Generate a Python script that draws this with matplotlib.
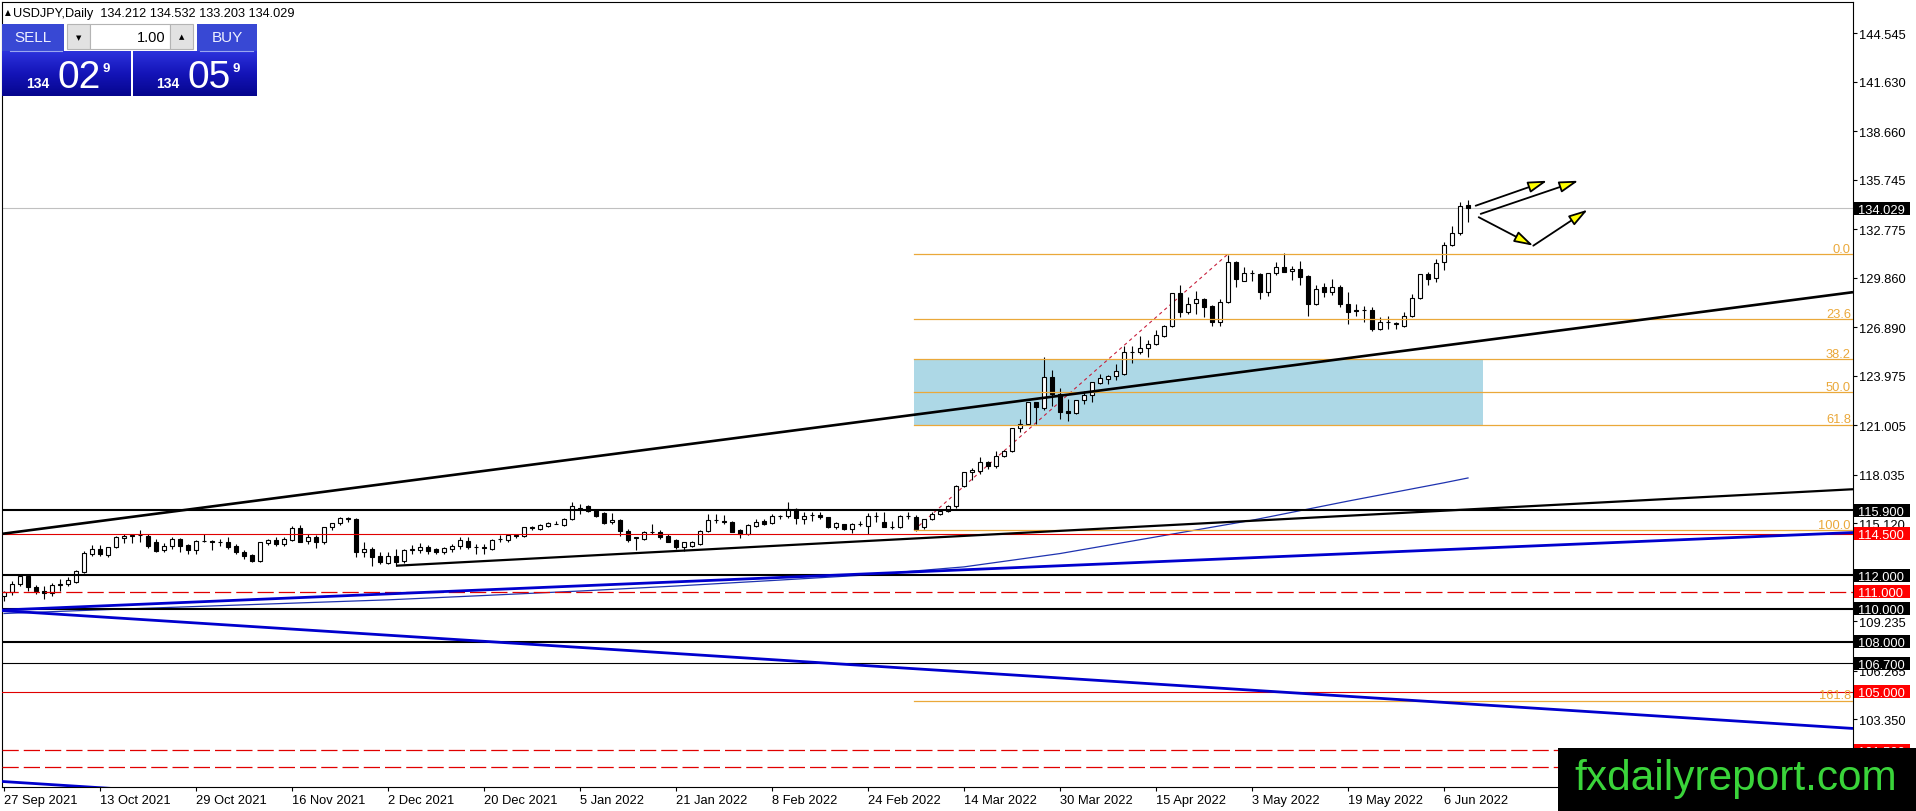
import matplotlib
matplotlib.use('Agg')
import matplotlib.pyplot as plt
import numpy as np
import matplotlib.transforms as mtransforms
from matplotlib.patches import Rectangle, FancyArrowPatch, ArrowStyle
from matplotlib.colors import LinearSegmentedColormap

W, H, DPI = 1916, 812, 100
FONT = ['Liberation Sans', 'DejaVu Sans']
plt.rcParams['font.family'] = FONT

# ---------------- data ----------------
symbol = "USDJPY,Daily"
header_ohlc = [134.212, 134.532, 133.203, 134.029]
sell_price = ("134", "02", "9")
buy_price = ("134", "05", "9")
lot_size = "1.00"

opens = [110.75, 111.00, 111.47, 111.98, 111.29, 111.05, 110.93, 111.43, 111.45, 111.62,
         112.22, 113.30, 113.60, 113.22, 113.67, 114.25, 114.37, 114.40, 114.37, 114.00,
         113.53, 113.73, 114.17, 113.80, 113.53, 114.05, 114.03, 114.00, 114.00, 113.77,
         113.41, 113.20, 112.87, 113.93, 114.10, 113.87, 114.13, 114.83, 114.07, 114.27,
         113.97, 114.87, 115.13, 115.41, 115.37, 113.41, 113.57, 113.13, 112.73, 113.17,
         112.83, 113.53, 113.53, 113.67, 113.57, 113.41, 113.57, 113.73, 114.07, 113.70,
         113.67, 113.57, 114.15, 114.11, 114.40, 114.37, 114.87, 114.77, 114.97, 115.10,
         115.00, 115.37, 116.05, 116.13, 115.93, 115.71, 115.17, 115.31, 114.67, 114.25,
         114.17, 114.60, 114.57, 114.33, 114.11, 113.67, 113.77, 113.87, 114.67, 115.30,
         115.25, 115.21, 114.71, 114.47, 114.97, 115.23, 115.11, 115.53, 115.53, 115.97,
         115.37, 115.60, 115.60, 115.47, 114.87, 115.07, 114.77, 115.05, 114.97, 115.53,
         115.21, 114.90, 114.87, 115.53, 115.47, 114.87, 115.37, 115.67, 115.87, 116.13,
         117.33, 118.17, 118.28, 118.77, 118.57, 119.14, 119.46, 120.82, 121.08, 122.38,
         122.02, 123.88, 122.88, 121.84, 121.74, 122.54, 122.82, 123.54, 123.78, 123.94,
         124.08, 125.38, 125.38, 125.62, 125.86, 126.38, 126.98, 128.95, 127.83, 128.33,
         128.59, 128.19, 127.19, 128.43, 130.79, 129.69, 130.15, 130.09, 129.03, 130.15,
         130.49, 130.27, 130.39, 129.95, 128.29, 129.29, 129.03, 129.29, 128.29, 127.90,
         127.90, 127.90, 126.80, 127.23, 127.10, 126.99, 127.55, 128.63, 130.09, 129.83,
         130.83, 131.83, 132.53, 134.212]
highs = [111.05, 111.68, 112.08, 112.02, 111.43, 111.35, 111.55, 111.79, 111.88, 112.29,
         113.43, 113.80, 113.79, 113.72, 114.34, 114.45, 114.46, 114.70, 114.45, 114.20,
         113.93, 114.32, 114.21, 113.90, 114.10, 114.45, 114.10, 114.20, 114.27, 113.85,
         113.50, 113.30, 114.00, 114.20, 114.30, 114.30, 114.97, 115.00, 114.50, 114.40,
         114.90, 115.16, 115.52, 115.48, 115.43, 114.00, 113.70, 113.40, 113.37, 113.57,
         113.60, 113.80, 113.93, 113.80, 113.65, 113.70, 113.85, 114.27, 114.27, 113.90,
         113.85, 114.20, 114.40, 114.50, 114.45, 114.92, 114.95, 115.05, 115.20, 115.27,
         115.45, 116.41, 116.30, 116.21, 116.00, 115.77, 115.71, 115.35, 114.75, 114.30,
         114.67, 115.07, 114.70, 114.45, 114.20, 114.00, 114.05, 114.70, 115.67, 115.68,
         115.61, 115.25, 114.80, 115.05, 115.37, 115.35, 115.67, 115.62, 116.37, 116.05,
         115.77, 115.77, 115.77, 115.50, 115.17, 115.10, 115.15, 115.27, 115.73, 115.77,
         115.77, 115.27, 115.60, 115.80, 115.60, 115.37, 115.80, 115.90, 116.20, 117.40,
         118.20, 118.45, 119.12, 118.87, 119.43, 119.50, 120.87, 121.41, 122.42, 122.43,
         125.08, 124.33, 123.22, 122.58, 122.54, 123.08, 123.58, 124.08, 124.05, 124.68,
         125.78, 125.74, 126.35, 126.10, 126.75, 127.00, 128.95, 129.40, 128.70, 129.08,
         128.62, 128.22, 128.58, 131.25, 130.85, 130.50, 130.30, 130.15, 130.15, 130.80,
         131.35, 130.55, 130.90, 130.00, 129.40, 129.55, 129.80, 129.45, 128.98, 128.29,
         128.15, 128.10, 127.50, 127.55, 127.23, 127.80, 128.90, 130.09, 130.23, 130.99,
         132.03, 132.95, 134.43, 134.532]
lows = [110.45, 110.82, 111.35, 111.07, 110.85, 110.55, 110.77, 111.06, 111.33, 111.55,
        112.16, 113.13, 113.15, 113.10, 113.62, 113.93, 113.95, 114.00, 113.66, 113.41,
        113.42, 113.60, 113.40, 113.27, 113.30, 113.98, 113.53, 113.78, 113.57, 113.30,
        113.00, 112.77, 112.80, 113.84, 113.75, 113.75, 114.05, 113.97, 113.90, 113.62,
        113.90, 114.70, 115.00, 115.20, 113.07, 113.07, 112.55, 112.70, 112.65, 112.57,
        112.75, 113.30, 113.32, 113.30, 113.25, 113.30, 113.40, 113.60, 113.57, 113.25,
        113.27, 113.50, 113.98, 114.00, 114.25, 114.30, 114.72, 114.70, 114.90, 115.07,
        114.98, 115.30, 115.67, 115.77, 115.50, 115.07, 115.10, 114.37, 113.97, 113.50,
        114.10, 114.45, 114.20, 113.97, 113.60, 113.47, 113.70, 113.80, 114.60, 115.15,
        115.07, 114.57, 114.22, 114.40, 114.90, 115.00, 115.05, 115.40, 115.45, 115.07,
        115.07, 115.27, 115.37, 114.85, 114.80, 114.70, 114.55, 114.97, 114.47, 115.17,
        114.87, 114.77, 114.85, 115.40, 114.67, 114.80, 115.30, 115.60, 115.80, 116.05,
        117.30, 117.70, 118.10, 118.37, 118.42, 119.10, 119.40, 120.62, 121.00, 121.08,
        121.95, 122.18, 121.38, 121.28, 121.70, 122.28, 122.38, 123.50, 123.48, 123.74,
        124.00, 124.74, 125.30, 125.08, 125.80, 126.30, 126.90, 127.48, 127.68, 127.68,
        127.48, 126.98, 126.96, 128.35, 129.29, 129.65, 129.65, 128.59, 128.75, 130.05,
        130.20, 129.75, 129.40, 127.55, 128.25, 128.70, 128.80, 128.10, 127.09, 127.58,
        127.20, 126.69, 126.75, 126.80, 126.80, 126.90, 127.50, 128.60, 129.43, 129.63,
        130.35, 131.79, 132.45, 133.203]
closes = [111.00, 111.47, 111.95, 111.27, 111.07, 110.92, 111.42, 111.47, 111.70, 112.25,
          113.35, 113.60, 113.25, 113.67, 114.27, 114.37, 114.37, 114.40, 113.75, 113.47,
          113.77, 114.17, 113.73, 113.53, 114.07, 114.03, 114.00, 114.02, 113.67, 113.37,
          113.17, 112.87, 113.97, 114.13, 113.87, 114.17, 114.83, 114.00, 114.27, 114.00,
          114.87, 115.13, 115.41, 115.39, 113.37, 113.57, 113.07, 112.77, 113.17, 112.77,
          113.53, 113.55, 113.67, 113.43, 113.37, 113.61, 113.77, 114.13, 113.67, 113.70,
          113.65, 114.13, 114.17, 114.41, 114.37, 114.87, 114.85, 115.00, 115.11, 115.08,
          115.37, 116.13, 116.00, 115.83, 115.53, 115.11, 115.33, 114.63, 114.11, 114.27,
          114.61, 114.60, 114.27, 114.01, 113.67, 113.97, 114.01, 114.67, 115.33, 115.30,
          115.20, 114.61, 114.47, 115.00, 115.17, 115.10, 115.53, 115.55, 115.97, 115.41,
          115.57, 115.60, 115.47, 114.91, 115.11, 114.77, 115.07, 115.05, 115.53, 115.55,
          114.91, 114.90, 115.53, 115.53, 114.77, 115.37, 115.70, 115.87, 116.13, 117.33,
          118.17, 118.33, 118.77, 118.57, 119.14, 119.46, 120.82, 121.08, 122.38, 122.08,
          123.88, 122.88, 121.82, 121.74, 122.54, 122.82, 123.58, 123.82, 123.98, 124.28,
          125.38, 125.40, 125.64, 125.86, 126.42, 126.98, 128.95, 127.83, 128.29, 128.59,
          128.09, 127.19, 128.43, 130.79, 129.79, 130.15, 130.13, 129.03, 130.15, 130.49,
          130.23, 130.39, 129.89, 128.29, 129.19, 129.03, 129.29, 128.29, 127.83, 127.88,
          127.90, 126.80, 127.23, 127.20, 127.10, 127.55, 128.63, 130.09, 129.79, 130.75,
          131.83, 132.53, 134.19, 134.029]

date_labels = ['27 Sep 2021', '13 Oct 2021', '29 Oct 2021', '16 Nov 2021', '2 Dec 2021',
               '20 Dec 2021', '5 Jan 2022', '21 Jan 2022', '8 Feb 2022', '24 Feb 2022',
               '14 Mar 2022', '30 Mar 2022', '15 Apr 2022', '3 May 2022', '19 May 2022',
               '6 Jun 2022']
date_label_bars = [0, 12, 24, 36, 48, 60, 72, 84, 96, 108, 120, 132, 144, 156, 168, 180]

price_ticks = [144.545, 141.630, 138.660, 135.745, 132.775, 129.860, 126.890, 123.975,
               121.005, 118.035, 115.120, 112.150, 109.235, 106.265, 103.350, 100.435]
hidden_tick_labels = [100.435]   # covered by the watermark in the reference

ma_bars = [0, 12, 24, 36, 48, 60, 72, 84, 96, 108, 120, 132, 144, 156, 168, 180, 183]
ma_values = [109.70, 109.92, 110.12, 110.32, 110.52, 110.78, 111.05, 111.35, 111.68,
             112.02, 112.50, 113.30, 114.30, 115.30, 116.45, 117.55, 117.84]

current_price = 134.029
black_thick_levels = [115.900, 112.000, 110.000, 108.000]
black_thin_levels = [106.700]
red_solid_levels = [114.500, 105.000]
red_dashed_levels = [111.000, 101.500, 100.500]
hidden_box_text = [100.500]      # label text fully behind the watermark

fib_bars = [113.75, 153.0]
fib_low, fib_high = 114.71, 131.29
fib_levels = [0.0, 23.6, 38.2, 50.0, 61.8, 100.0, 161.8]
zone_bars = [113.75, 184.9]
zone_fib = [38.2, 61.8]

trend_black_long = [(0.0, 114.50), (231.0, 128.99)]
trend_black_short = [(49.0, 112.57), (231.0, 117.16)]
trend_blue_up = [(-0.5, 109.90), (231.0, 114.56)]
trend_blue_down = [(-0.5, 109.88), (231.0, 102.80)]
trend_blue_down_low = [(-0.5, 99.62), (231.0, 92.54)]

arrows = [[(183.96, 134.19), (192.9, 135.69)],
          [(184.59, 133.70), (196.8, 135.69)],
          [(184.34, 133.50), (191.16, 131.79)],
          [(191.16, 131.79), (197.96, 133.95)]]

# ---------------- figure ----------------
fig = plt.figure(figsize=(W / DPI, H / DPI), dpi=DPI)
fig.patch.set_facecolor('white')
L, R, T, B = 2, 1853, 3, 788
ax = fig.add_axes([L / W, (H - B) / H, (R - L) / W, (B - T) / H])
XMIN, XMAX = -0.25, 231.125
YMIN, YMAX = 99.28, 146.425
ax.set_xlim(XMIN, XMAX)
ax.set_ylim(YMIN, YMAX)
ax.set_facecolor('white')
for s in ax.spines.values():
    s.set_color('black')
    s.set_linewidth(0.8)

ax.yaxis.tick_right()
ax.set_yticks(price_ticks)
ax.set_yticklabels(['' if p in hidden_tick_labels else f'{p:.3f}' for p in price_ticks])
ax.tick_params(axis='y', direction='out', length=3, width=0.8, pad=1.5,
               labelsize=9.3, colors='black')
ax.set_xticks(date_label_bars)
ax.set_xticklabels(date_labels, ha='left')
ax.tick_params(axis='x', direction='out', length=3, width=0.8, pad=2,
               labelsize=9.3, colors='black')

trans = mtransforms.blended_transform_factory(ax.transAxes, ax.transData)

# zone rectangle (background)
fib_price = lambda lv: fib_high - (fib_high - fib_low) * lv / 100.0
z_top, z_bot = fib_price(zone_fib[0]), fib_price(zone_fib[1])
ax.add_patch(Rectangle((zone_bars[0], z_bot), zone_bars[1] - zone_bars[0], z_top - z_bot,
                       facecolor='#add8e6', edgecolor='none', zorder=1))

# current price line
ax.axhline(current_price, color='#c0c0c0', lw=0.8, zorder=1.5)

# horizontal levels
for p in black_thick_levels:
    ax.axhline(p, color='black', lw=1.5, zorder=5)
for p in black_thin_levels:
    ax.axhline(p, color='black', lw=0.8, zorder=5)
for p in red_solid_levels:
    ax.axhline(p, color='#e00000', lw=0.8, zorder=5)
for p in red_dashed_levels:
    ax.axhline(p, color='#e00000', lw=0.9, zorder=5, linestyle=(0, (13, 4)))

# fib
for lv in fib_levels:
    p = fib_price(lv)
    ax.plot([fib_bars[0], XMAX], [p, p], color='#eaa83a', lw=0.9, zorder=5)
    ax.annotate(f'{lv:.1f}', xy=(1.0, p), xycoords=trans, xytext=(-1.5, 1.8),
                textcoords='offset points', ha='right', va='baseline',
                color='#eaa83a', fontsize=9.3, zorder=6)
ax.plot(fib_bars, [fib_low, fib_high], color='#c8203c', lw=0.8,
        linestyle=(0, (3, 3)), zorder=2)

# trendlines extended over the chart
def draw_trend(pts, color, lw, x_from=None):
    (x1, y1), (x2, y2) = pts
    k = (y2 - y1) / (x2 - x1)
    xa = x1 if x_from is None else x_from
    xs = [xa, XMAX]
    ys = [y1 + k * (xx - x1) for xx in xs]
    ax.plot(xs, ys, color=color, lw=lw, zorder=5, solid_capstyle='butt')

draw_trend(trend_black_long, 'black', 1.9, x_from=XMIN)
draw_trend(trend_black_short, 'black', 1.6)
draw_trend(trend_blue_up, '#0000cd', 2.0, x_from=XMIN)
draw_trend(trend_blue_down, '#0000cd', 2.0, x_from=XMIN)
draw_trend(trend_blue_down_low, '#0000cd', 2.0, x_from=XMIN)

# moving average
ax.plot(ma_bars, ma_values, color='#1f33b0', lw=0.9, zorder=4)

# candles
o = np.array(opens); h = np.array(highs); l = np.array(lows); c = np.array(closes)
x = np.arange(len(c))
up = c >= o
ax.vlines(x, l, h, color='black', lw=0.8, zorder=3)
bot = np.minimum(o, c)
hgt = np.maximum(np.abs(c - o), 0.02)
ax.bar(x[up], hgt[up], bottom=bot[up], width=0.6, facecolor='white',
       edgecolor='black', linewidth=0.8, zorder=3.5)
ax.bar(x[~up], hgt[~up], bottom=bot[~up], width=0.6, facecolor='black',
       edgecolor='black', linewidth=0.8, zorder=3.5)

# arrows
for (pa, pb) in arrows:
    ar = FancyArrowPatch(pa, pb, arrowstyle=ArrowStyle('-|>', head_length=11.5, head_width=3.4),
                         mutation_scale=1, facecolor='#ffff00', edgecolor='black', lw=1.3,
                         shrinkA=0, shrinkB=0, zorder=7)
    ax.add_patch(ar)

# right price labels (boxes)
box_x0 = (1854 - L) / (R - L)
box_w = 56 / (R - L)
box_h = 13 / ((B - T) / (YMAX - YMIN))
txt_x = (1858 - L) / (R - L)
def price_box(p, bg):
    ax.add_patch(Rectangle((box_x0, p - box_h / 2), box_w, box_h, transform=trans,
                           facecolor=bg, edgecolor='none', clip_on=False, zorder=10))
    if p not in hidden_box_text:
        ax.text(txt_x, p, f'{p:.3f}', transform=trans, ha='left', va='center_baseline',
                color='white', fontsize=9.3, clip_on=False, zorder=11)

price_box(current_price, 'black')
for p in black_thick_levels + black_thin_levels:
    price_box(p, 'black')
for p in red_solid_levels + red_dashed_levels:
    price_box(p, '#ff0000')

# ---------------- overlay (header, trade panel, watermark) ----------------
ov = fig.add_axes([0, 0, 1, 1], zorder=20)
ov.patch.set_alpha(0)
ov.axis('off')

ov.text(8, 13, '\u25b2', fontsize=5.5, ha='center', va='center', family=['DejaVu Sans'])
ov.text(13, 13.5, f"{symbol}  " + ' '.join(f'{v:.3f}' for v in header_ohlc),
        fontsize=9.2, ha='left', va='center', color='black')

btn_col = '#3848d4'
ov.add_patch(Rectangle((2, 25), 62, 27, facecolor=btn_col, edgecolor='none'))
ov.add_patch(Rectangle((197, 25), 60, 27, facecolor=btn_col, edgecolor='none'))
ov.plot([10, 62], [51.5, 51.5], color='#9aa6f0', lw=0.8)
ov.plot([200, 253], [51.5, 51.5], color='#9aa6f0', lw=0.8)
ov.text(33, 38.5, 'SELL', color='#eef0ff', fontsize=11, ha='center', va='center')
ov.text(227, 38.5, 'BUY', color='#eef0ff', fontsize=11, ha='center', va='center')

ov.add_patch(Rectangle((67, 25), 23, 25, facecolor='#e2e2e2', edgecolor='#b4b4b4', lw=0.8))
ov.add_patch(Rectangle((90, 25), 80, 25, facecolor='white', edgecolor='#b4b4b4', lw=0.8))
ov.add_patch(Rectangle((170, 25), 23, 25, facecolor='#e2e2e2', edgecolor='#b4b4b4', lw=0.8))
ov.text(78.5, 38, '\u25bc', fontsize=5, ha='center', va='center', family=['DejaVu Sans'])
ov.text(181.5, 37, '\u25b2', fontsize=5, ha='center', va='center', family=['DejaVu Sans'])
ov.text(166, 37.5, lot_size, fontsize=10.5, ha='right', va='center', color='black')

grad = np.linspace(0, 1, 60).reshape(-1, 1)
cmap = LinearSegmentedColormap.from_list('mtblue', ['#2c32dc', '#1414b8', '#06068e'])
ov.imshow(grad, extent=(2, 131, 97, 52), aspect='auto', cmap=cmap, zorder=1)
ov.imshow(grad, extent=(133, 257, 97, 52), aspect='auto', cmap=cmap, zorder=1)

for (big, small, sup), x0 in [(sell_price, 26), (buy_price, 156)]:
    ov.text(x0, 88, big, color='white', fontsize=10, fontweight='bold',
            ha='left', va='baseline', zorder=3)
    ov.text(x0 + 32, 88, small, color='white', fontsize=28,
            ha='left', va='baseline', zorder=3)
    ov.text(x0 + 77, 72, sup, color='white', fontsize=9.5, fontweight='bold',
            ha='left', va='baseline', zorder=3)

ov.add_patch(Rectangle((1558, 749), W - 1558, H - 749, facecolor='black',
                       edgecolor='none', zorder=5))
ov.text(1736, 790, 'fxdailyreport.com', color='#3ad43a', fontsize=30.5,
        ha='center', va='baseline', zorder=6)

ov.set_xlim(0, W)
ov.set_ylim(H, 0)

fig.savefig('out.png', dpi=DPI, facecolor='white')
